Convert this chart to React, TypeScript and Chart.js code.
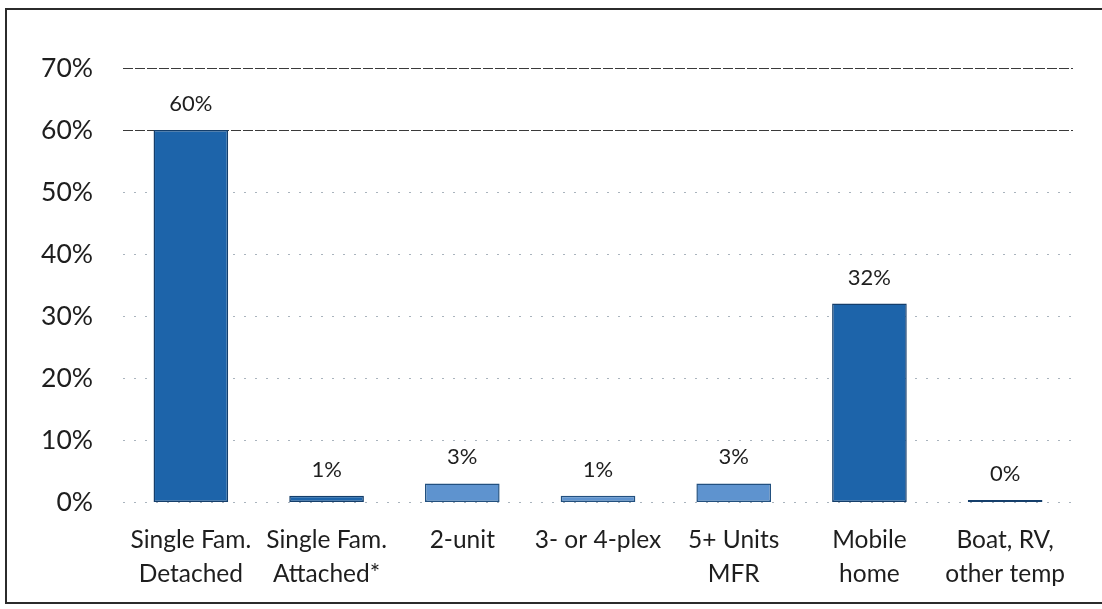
import React, { useEffect, useRef } from "react";
import { Chart, registerables } from "chart.js";

Chart.register(...registerables);

// Housing type categories (two-line labels) and their shares in percent
const categories: string[][] = [
  ["Single Fam.", "Detached"],
  ["Single Fam.", "Attached*"],
  ["2-unit"],
  ["3- or 4-plex"],
  ["5+ Units", "MFR"],
  ["Mobile", "home"],
  ["Boat, RV,", "other temp"],
];
const shares: number[] = [60, 1, 3, 1, 3, 32, 0];
const yTicks: number[] = [0, 10, 20, 30, 40, 50, 60, 70];

const DARK_FILL = "#1d64aa";
const DARK_EDGE = "#143e6b";
const LIGHT_FILL = "#5e93cf";
const LIGHT_EDGE = "#22507f";
const lightBars = [2, 3, 4];

const FONT = "Lato, 'Open Sans', sans-serif";

// Horizontal guides: the upper two are solid, the rest faint and dotted
const gridPlugin = {
  id: "guides",
  beforeDatasetsDraw(chart: any) {
    const { ctx, chartArea, scales } = chart;
    const y = scales.y;
    ctx.save();
    yTicks.forEach((t) => {
      const py = Math.round(y.getPixelForValue(t)) + 0.5;
      ctx.beginPath();
      if (t >= 60) {
        ctx.strokeStyle = "#3a3a3a";
        ctx.setLineDash([10, 2]);
      } else {
        ctx.strokeStyle = "#a9b3bd";
        ctx.setLineDash([2, 9]);
      }
      ctx.lineWidth = 1;
      ctx.moveTo(chartArea.left, py);
      ctx.lineTo(chartArea.right, py);
      ctx.stroke();
    });
    ctx.restore();
  },
};

// Value label above each bar
const valueLabelPlugin = {
  id: "valueLabels",
  afterDatasetsDraw(chart: any) {
    const { ctx } = chart;
    const meta = chart.getDatasetMeta(0);
    ctx.save();
    ctx.font = `22px ${FONT}`;
    ctx.fillStyle = "#1e1e1e";
    ctx.textAlign = "center";
    ctx.textBaseline = "alphabetic";
    meta.data.forEach((bar: any, i: number) => {
      const v = shares[i];
      const top = Math.min(bar.y, bar.base - 2);
      ctx.fillText(`${Math.round(v)}%`, bar.x, top - 19);
    });
    ctx.restore();
  },
};

export default function App() {
  const canvasRef = useRef<HTMLCanvasElement | null>(null);

  useEffect(() => {
    const canvas = canvasRef.current;
    if (!canvas) return;
    const chart = new Chart(canvas, {
      type: "bar",
      data: {
        labels: categories,
        datasets: [
          {
            data: shares,
            backgroundColor: shares.map((_, i) => (lightBars.includes(i) ? LIGHT_FILL : DARK_FILL)),
            borderColor: shares.map((_, i) => (lightBars.includes(i) ? LIGHT_EDGE : DARK_EDGE)),
            borderWidth: 1.5,
            borderSkipped: false,
            minBarLength: 2,
            barPercentage: 0.55,
            categoryPercentage: 1,
          },
        ],
      },
      options: {
        animation: false,
        responsive: false,
        maintainAspectRatio: false,
        layout: { padding: { left: 0, right: 29, top: 68, bottom: 0 } },
        plugins: {
          legend: { display: false },
          tooltip: { enabled: false },
        },
        scales: {
          x: {
            grid: { display: false },
            border: { display: false },
            ticks: {
              color: "#1e1e1e",
              font: { family: FONT, size: 24.5, lineHeight: 1.35 },
              padding: 14,
              maxRotation: 0,
              autoSkip: false,
            },
            afterFit(scale: any) {
              scale.height = 107;
            },
          },
          y: {
            min: 0,
            max: 70,
            grid: { display: false },
            border: { display: false },
            afterBuildTicks(scale: any) {
              scale.ticks = yTicks.map((v) => ({ value: v }));
            },
            ticks: {
              color: "#1e1e1e",
              font: { family: FONT, size: 26.5 },
              padding: 22,
              callback: (v: any) => `${v}%`,
            },
            afterFit(scale: any) {
              scale.width = 123;
            },
          },
        },
      },
      plugins: [gridPlugin, valueLabelPlugin],
    });
    return () => chart.destroy();
  }, []);

  return (
    <div
      style={{
        position: "absolute",
        left: 0,
        top: 0,
        width: 1102,
        height: 609,
        overflow: "hidden",
        background: "#ffffff",
      }}
    >
      <div
        style={{
          position: "absolute",
          left: 5,
          top: 8,
          width: 1120,
          height: 596,
          border: "2px solid #2b2b2b",
          boxSizing: "border-box",
        }}
      />
      <canvas
        ref={canvasRef}
        width={1102}
        height={609}
        style={{ position: "absolute", left: 0, top: 0, width: 1102, height: 609 }}
      />
    </div>
  );
}
